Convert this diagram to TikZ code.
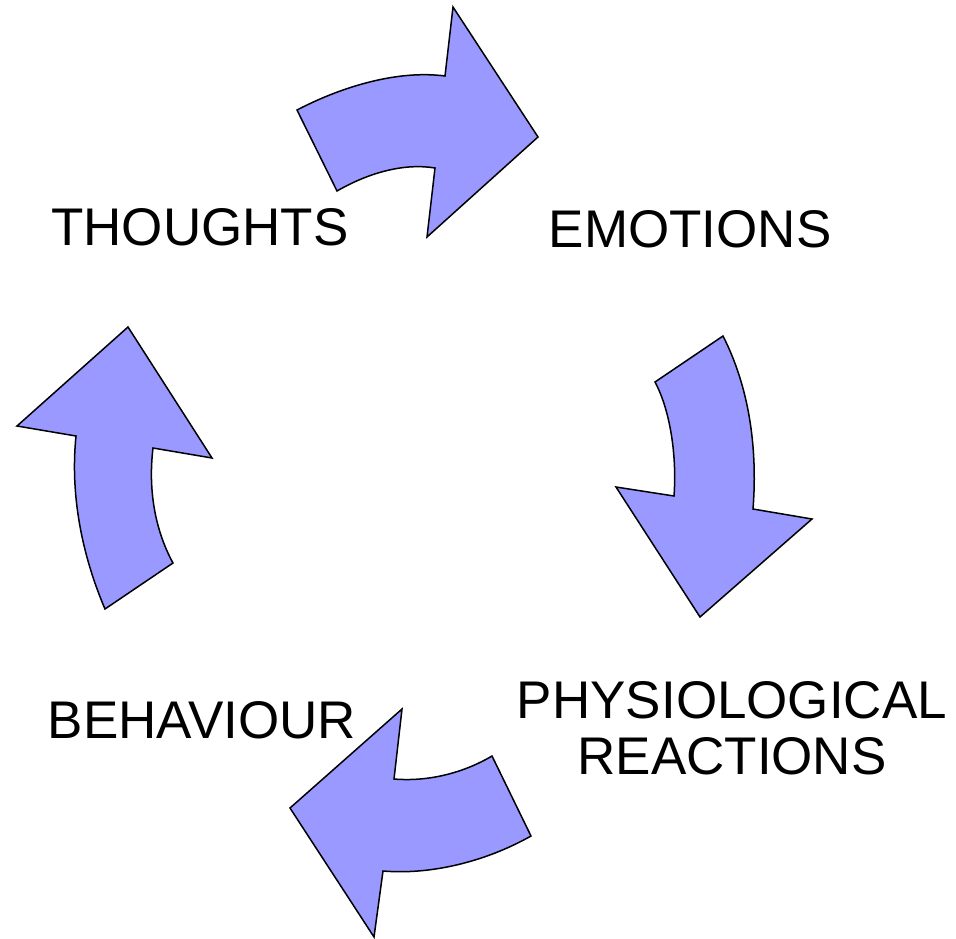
\documentclass[tikz,border=0pt]{standalone}
\usepackage{fontspec}
\setmainfont{Liberation Sans}
\definecolor{arrowfill}{HTML}{9999FF}
\begin{document}
\begin{tikzpicture}[x=1pt,y=-1pt,
  cyclearrow/.style={fill=arrowfill,draw=black,line width=1.5pt,line join=miter},
  label/.style={inner sep=0pt,font=\fontsize{53}{56}\selectfont,text=black}]
\useasboundingbox (0,0) rectangle (956,938);
% top arrow
\draw[cyclearrow] (297,110) .. controls (345,85) and (400,70) .. (445,76) -- (453,7) -- (538,137) -- (427,237) -- (435,168) .. controls (405,163) and (370,172) .. (337,191) -- cycle;
% right arrow
\draw[cyclearrow] (723,336) -- (655,382) .. controls (670,410) and (677,455) .. (674,496) -- (616,487) -- (700,617) -- (812,519) -- (753,509) .. controls (758,445) and (748,385) .. (723,336) -- cycle;
% bottom arrow
\draw[cyclearrow] (492,756) -- (531,836) .. controls (485,862) and (430,875) .. (383,871) -- (374,937) -- (290,808) -- (402,709) -- (394,779) .. controls (430,782) and (465,772) .. (492,756) -- cycle;
% left arrow
\draw[cyclearrow] (128,327) -- (17,426) -- (76,436) .. controls (70,495) and (82,555) .. (105,609) -- (173,563) .. controls (155,530) and (148,490) .. (153,448) -- (212,458) -- cycle;
% labels
\node[label,anchor=base] (thoughts) at (200,245) {THOUGHTS};
\node[label,anchor=base] (emotions) at (690,247) {EMOTIONS};
\node[label,align=center,anchor=center] (physio) at (732,728.5) {PHYSIOLOGICAL\\REACTIONS};
\node[label,anchor=base] (behaviour) at (202,738) {BEHAVIOUR};
\end{tikzpicture}
\end{document}
